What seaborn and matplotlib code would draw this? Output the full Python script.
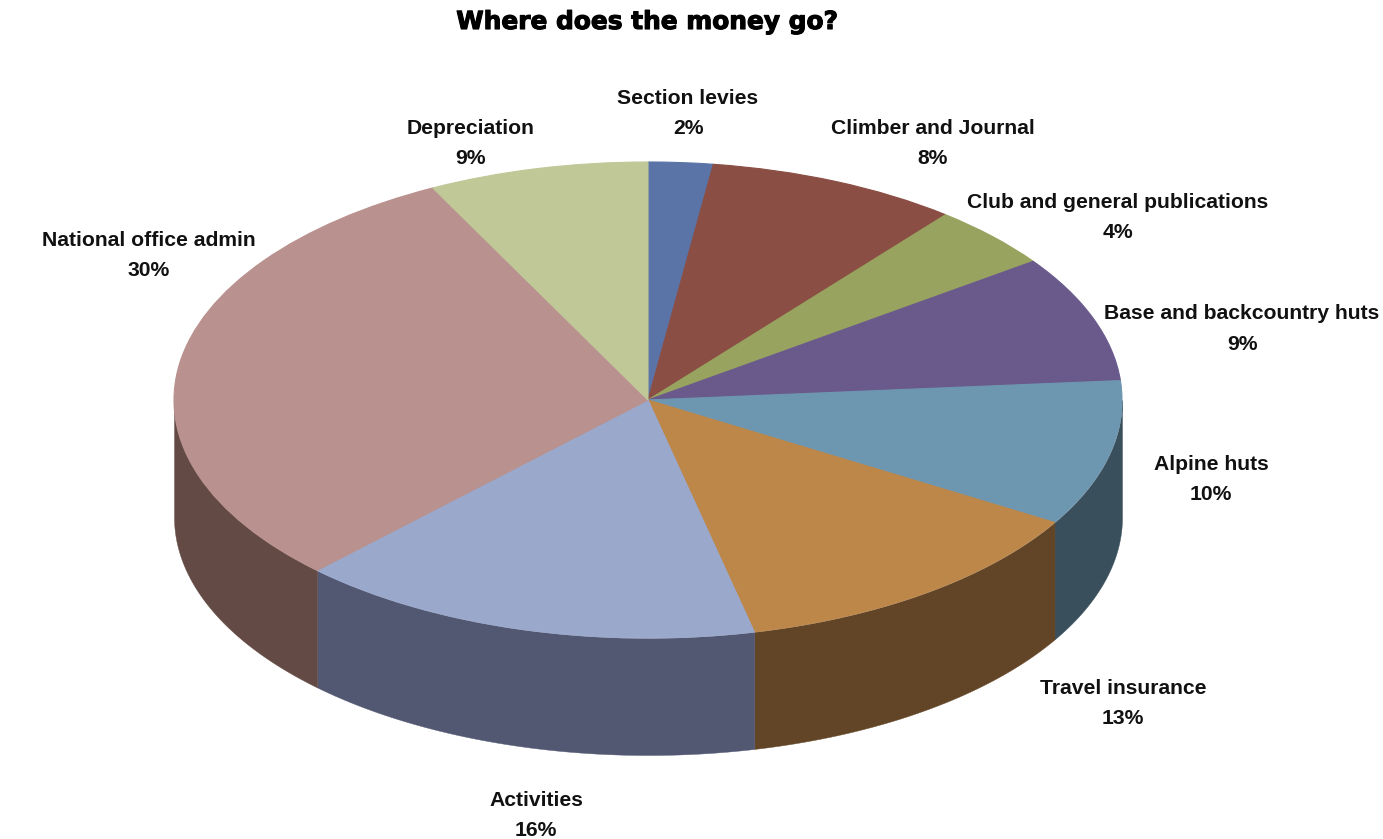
import numpy as np
import matplotlib
matplotlib.use("Agg")
import matplotlib.pyplot as plt
import matplotlib.patheffects as pe
import seaborn as sns

categories = ["Section levies", "Climber and Journal", "Club and general publications",
              "Base and backcountry huts", "Alpine huts", "Travel insurance",
              "Activities", "National office admin", "Depreciation"]
# slice sizes as drawn in the picture, the printed labels differ a little
drawn_share = [2.2, 8.6, 4.3, 8.6, 9.9, 12.8, 15.9, 30.2, 7.5]
printed_pct = [2, 8, 4, 9, 10, 13, 16, 30, 9]
top_colors = ["#5b74a8", "#8a4e44", "#98a35f", "#6a5a8c", "#6d96b0",
              "#bd8749", "#9aa8cc", "#b9918e", "#c0c898"]
side_colors = ["#3c4d70", "#5c342d", "#656c3f", "#47395d", "#3a4f5c",
               "#624526", "#525871", "#634a45", "#7d8263"]

sns.set_theme(style="white")
plt.rcParams["font.family"] = ["Liberation Sans", "DejaVu Sans"]

W, H = 1383, 839
CX, CY, RX, RY = 648, 400, 474, 238
DEPTH = 117 / RY

fig = plt.figure(figsize=(W / 100, H / 100), dpi=100, facecolor="white")
ax = fig.add_axes([0, 0, 1, 1])

wedges, _ = ax.pie(drawn_share, colors=top_colors, startangle=90, counterclock=False,
                   radius=1)
for w, c in zip(wedges, top_colors):
    w.set_zorder(3)
    w.set_edgecolor(c)
    w.set_linewidth(0.8)

# the wall under the front half of the ellipse (angles -180..0)
edges = 90 - np.cumsum([0] + drawn_share) / sum(drawn_share) * 360
for i in range(len(drawn_share)):
    lo, hi = max(edges[i + 1], -180), min(edges[i], 0)
    if lo >= hi:
        continue
    t = np.radians(np.linspace(lo, hi, 120))
    ax.fill_between(np.cos(t), np.sin(t) - DEPTH, np.sin(t), color=side_colors[i],
                    linewidth=0.3, zorder=2)

ax.set_aspect("auto")
ax.set_xlim(-CX / RX, (W - CX) / RX)
ax.set_ylim((CY - H) / RY, CY / RY)
ax.axis("off")

# label centres in picture pixels: name line, percent line
label_pos = [(688, 99, 129), (933, 129, 158), (1118, 203, 233), (1242, 314, 345),
             (1211, 465, 494), (1123, 689, 718), (536, 801, 830), (149, 241, 270),
             (471, 129, 158)]
for name, pct, (x, y1, y2) in zip(categories, printed_pct, label_pos):
    fig.text(x / W, 1 - y1 / H, name, ha="center", va="center", fontsize=15.2,
             fontweight="bold", color="#111111")
    fig.text(x / W, 1 - y2 / H, f"{pct}%", ha="center", va="center", fontsize=15.2,
             fontweight="bold", color="#111111")

fig.text(648 / W, 1 - 22 / H, "Where does the money go?", ha="center", va="center",
         fontsize=17.9, fontweight="bold", color="black", family="DejaVu Sans",
         path_effects=[pe.withStroke(linewidth=0.8, foreground="black")])

fig.savefig("out.png", dpi=100)
